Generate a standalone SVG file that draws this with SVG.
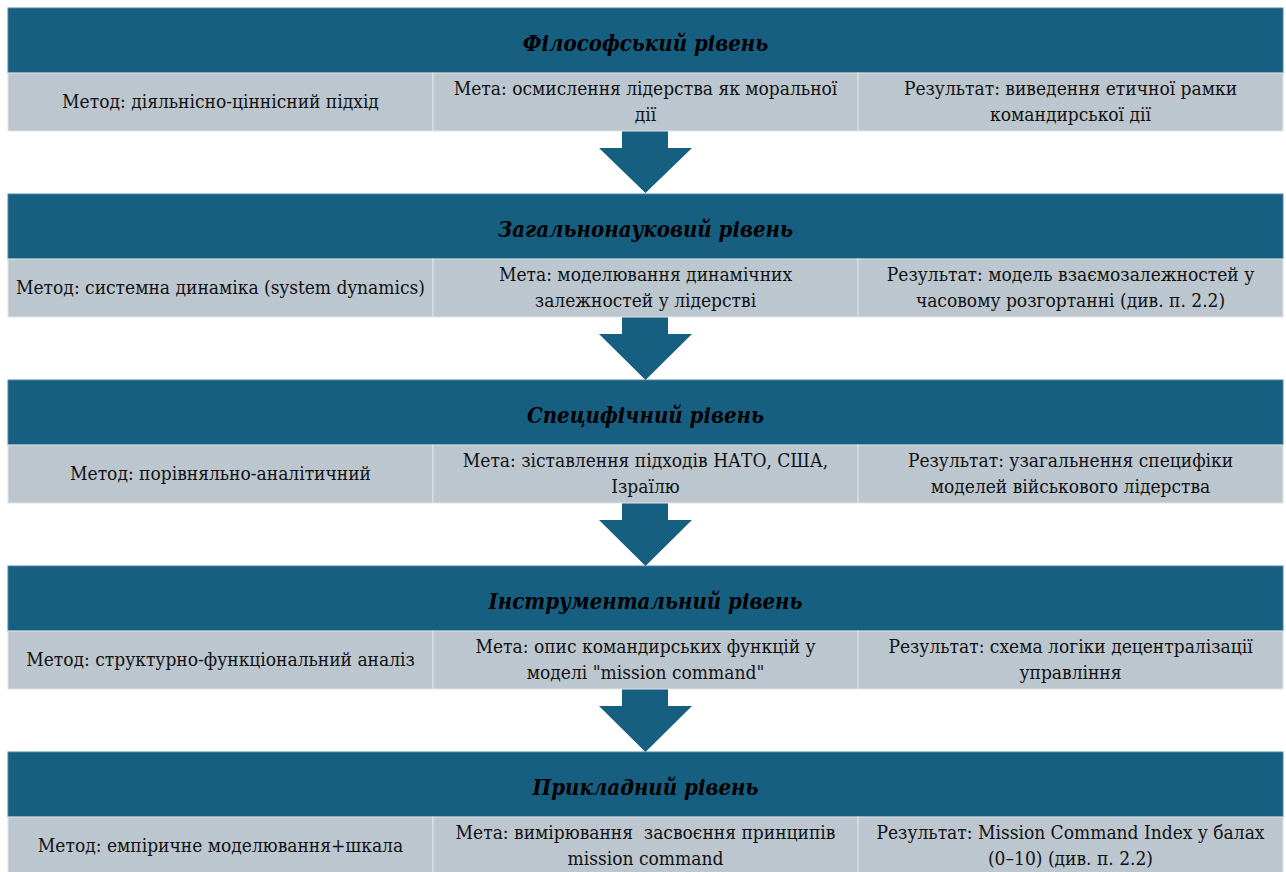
<svg xmlns="http://www.w3.org/2000/svg" width="1286" height="872" viewBox="0 0 1286 872">
<style>
.hdr{fill:#175f80;stroke:#4f86a3;stroke-width:1}
.cell{fill:#bcc6cf;stroke:#dfe5ea;stroke-width:1}
.ht{font-family:"DejaVu Serif","Liberation Serif",serif;font-stretch:condensed;font-size:22px;font-weight:bold;font-style:italic;fill:#000;text-anchor:middle}
.bt{font-family:"DejaVu Serif","Liberation Serif",serif;font-stretch:condensed;font-size:19px;fill:#111;text-anchor:middle}
.arr{fill:#175f80}
</style>
<rect width="1286" height="872" fill="#fff"/>
<g id="connectors">
<polygon class="arr" points="622,131 668,131 668,148 692,148 645.5,193 599,148 622,148"/>
<polygon class="arr" points="622,317 668,317 668,334 692,334 645.5,380 599,334 622,334"/>
<polygon class="arr" points="622,503 668,503 668,520 692,520 645.5,566 599,520 622,520"/>
<polygon class="arr" points="622,689 668,689 668,706 692,706 645.5,752 599,706 622,706"/>
</g>
<g id="level1">
<rect class="hdr" x="8" y="8" width="1275" height="65"/>
<text class="ht" x="645.5" y="51">Філософський рівень</text>
<rect class="cell" x="8" y="73" width="425" height="58"/>
<rect class="cell" x="433" y="73" width="425" height="58"/>
<rect class="cell" x="858" y="73" width="425" height="58"/>
<text class="bt" x="220.5" y="108">Метод: діяльнісно-ціннісний підхід</text>
<text class="bt" x="645.5" y="95">Мета: осмислення лідерства як моральної</text>
<text class="bt" x="645.5" y="121">дії</text>
<text class="bt" x="1070.5" y="95">Результат: виведення етичної рамки</text>
<text class="bt" x="1070.5" y="121">командирської дії</text>
</g>
<g id="level2">
<rect class="hdr" x="8" y="194" width="1275" height="65"/>
<text class="ht" x="645.5" y="237">Загальнонауковий рівень</text>
<rect class="cell" x="8" y="259" width="425" height="58"/>
<rect class="cell" x="433" y="259" width="425" height="58"/>
<rect class="cell" x="858" y="259" width="425" height="58"/>
<text class="bt" x="220.5" y="294">Метод: системна динаміка (system dynamics)</text>
<text class="bt" x="645.5" y="281">Мета: моделювання динамічних</text>
<text class="bt" x="645.5" y="307">залежностей у лідерстві</text>
<text class="bt" x="1070.5" y="281">Результат: модель взаємозалежностей у</text>
<text class="bt" x="1070.5" y="307">часовому розгортанні (див. п. 2.2)</text>
</g>
<g id="level3">
<rect class="hdr" x="8" y="380" width="1275" height="65"/>
<text class="ht" x="645.5" y="423">Специфічний рівень</text>
<rect class="cell" x="8" y="445" width="425" height="58"/>
<rect class="cell" x="433" y="445" width="425" height="58"/>
<rect class="cell" x="858" y="445" width="425" height="58"/>
<text class="bt" x="220.5" y="480">Метод: порівняльно-аналітичний</text>
<text class="bt" x="645.5" y="467">Мета: зіставлення підходів НАТО, США,</text>
<text class="bt" x="645.5" y="493">Ізраїлю</text>
<text class="bt" x="1070.5" y="467">Результат: узагальнення специфіки</text>
<text class="bt" x="1070.5" y="493">моделей військового лідерства</text>
</g>
<g id="level4">
<rect class="hdr" x="8" y="566" width="1275" height="65"/>
<text class="ht" x="645.5" y="609">Інструментальний рівень</text>
<rect class="cell" x="8" y="631" width="425" height="58"/>
<rect class="cell" x="433" y="631" width="425" height="58"/>
<rect class="cell" x="858" y="631" width="425" height="58"/>
<text class="bt" x="220.5" y="666">Метод: структурно-функціональний аналіз</text>
<text class="bt" x="645.5" y="653">Мета: опис командирських функцій у</text>
<text class="bt" x="645.5" y="679">моделі "mission command"</text>
<text class="bt" x="1070.5" y="653">Результат: схема логіки децентралізації</text>
<text class="bt" x="1070.5" y="679">управління</text>
</g>
<g id="level5">
<rect class="hdr" x="8" y="752" width="1275" height="65"/>
<text class="ht" x="645.5" y="795">Прикладний рівень</text>
<rect class="cell" x="8" y="817" width="425" height="58"/>
<rect class="cell" x="433" y="817" width="425" height="58"/>
<rect class="cell" x="858" y="817" width="425" height="58"/>
<text class="bt" x="220.5" y="852">Метод: емпіричне моделювання+шкала</text>
<text class="bt" x="645.5" y="839" xml:space="preserve">Мета: вимірювання  засвоєння принципів</text>
<text class="bt" x="645.5" y="865">mission command</text>
<text class="bt" x="1070.5" y="839">Результат: Mission Command Index у балах</text>
<text class="bt" x="1070.5" y="865">(0–10) (див. п. 2.2)</text>
</g>
</svg>
